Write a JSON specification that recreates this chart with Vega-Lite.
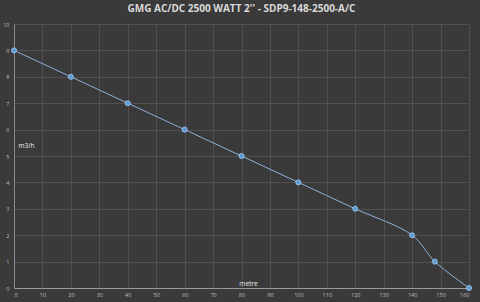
{
  "$schema": "https://vega.github.io/schema/vega-lite/v6.json",
  "width": 455,
  "height": 264,
  "autosize": "none",
  "padding": {"left": 14, "top": 24, "right": 11, "bottom": 14},
  "background": "#3a3a3a",
  "title": {
    "text": "GMG AC/DC 2500 WATT 2'' - SDP9-148-2500-A/C",
    "color": "#d9d9d9",
    "font": "Open Sans",
    "fontSize": 10,
    "fontWeight": "bold",
    "anchor": "middle",
    "offset": 8
  },
  "config": {
    "view": {"stroke": null},
    "axis": {
      "labelFont": "Open Sans",
      "labelFontSize": 5.5,
      "labelColor": "#bfbfbf",
      "gridColor": "#565656",
      "gridWidth": 0.8,
      "domainColor": "#8a8a8a",
      "ticks": false,
      "titleFont": "Open Sans",
      "titleFontSize": 6.5,
      "titleFontWeight": "normal",
      "titleColor": "#ececec"
    }
  },
  "data": {
    "values": [
      {"metre": 0, "m3h": 9},
      {"metre": 20, "m3h": 8},
      {"metre": 40, "m3h": 7},
      {"metre": 60, "m3h": 6},
      {"metre": 80, "m3h": 5},
      {"metre": 100, "m3h": 4},
      {"metre": 120, "m3h": 3},
      {"metre": 140, "m3h": 2},
      {"metre": 148, "m3h": 1},
      {"metre": 160, "m3h": 0}
    ]
  },
  "encoding": {
    "x": {
      "field": "metre",
      "type": "quantitative",
      "scale": {"domain": [0, 160], "nice": false},
      "axis": {"values": [0,10,20,30,40,50,60,70,80,90,100,110,120,130,140,150,160], "labelPadding": 4, "title": "metre", "titleX": 234, "titleY": -8, "titleAnchor": "middle", "domain": true, "domainColor": "#9a9a9a"}
    },
    "y": {
      "field": "m3h",
      "type": "quantitative",
      "scale": {"domain": [0, 10], "nice": false},
      "axis": {"values": [0,1,2,3,4,5,6,7,8,9,10], "labelPadding": 5, "title": "m3/h", "titleAngle": 0, "titleX": 4, "titleY": 124, "titleAlign": "left", "domain": true}
    }
  },
  "layer": [
    {"mark": {"type": "line", "interpolate": "catmull-rom", "color": "#8fb3d9", "strokeWidth": 1}},
    {"mark": {"type": "point", "filled": true, "size": 26, "color": "#5b9bd5", "stroke": "#a9c8ea", "strokeWidth": 0.8, "opacity": 1}}
  ]
}
